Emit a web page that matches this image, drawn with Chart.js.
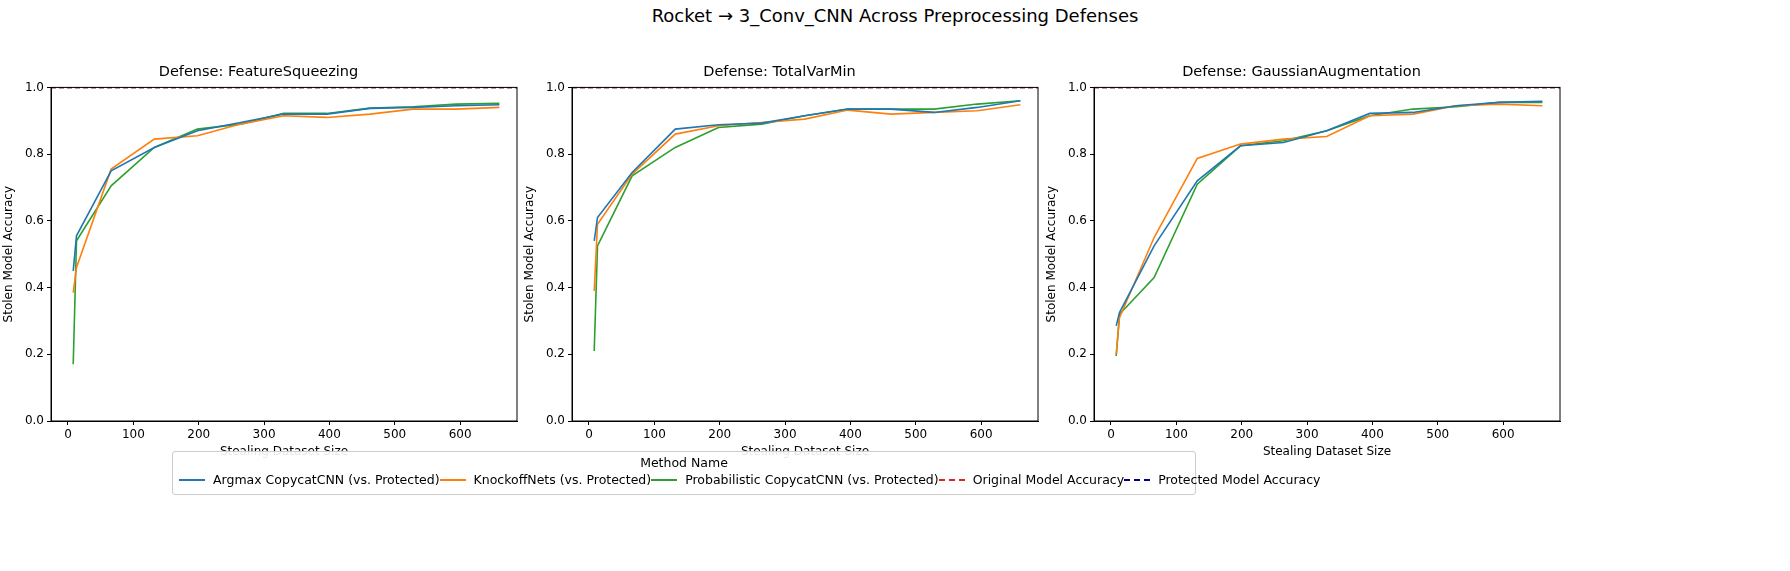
<!DOCTYPE html>
<html>
<head>
<meta charset="utf-8">
<script src="https://cdn.jsdelivr.net/npm/chart.js@4.4.0/dist/chart.umd.min.js"></script>
<style>
body { margin: 0; background: #fff; font-family: "DejaVu Sans", sans-serif; }
#wrap { position: relative; width: 1790px; height: 571px; }
#suptitle { position: absolute; top: 5px; left: 0; width: 1790px; text-align: center; font-size: 18px; }
.panel { position: absolute; top: 64px; width: 530px; height: 397px; }
#legend { position: absolute; left: 172px; top: 451px; width: 1024px; height: 44px; border: 1px solid #ccc; border-radius: 3px; background: rgba(255,255,255,0.9); font-size: 12.5px; box-sizing: border-box; white-space: nowrap; }
#legend .ttl { text-align: center; margin-top: 3px; }
#legend .items { display: flex; justify-content: space-between; margin-top: 2px; padding: 0 6px; }
#legend .item { display: flex; align-items: center; gap: 8px; }
#legend .sw { width: 26px; height: 0; border-top: 2px solid; }
</style>
</head>
<body>
<div id="wrap">
  <div id="suptitle">Rocket → 3_Conv_CNN Across Preprocessing Defenses</div>
  <div class="panel" style="left:0px"><canvas id="c0"></canvas></div>
  <div class="panel" style="left:521px"><canvas id="c1"></canvas></div>
  <div class="panel" style="left:1043px"><canvas id="c2"></canvas></div>
  <div id="legend">
    <div class="ttl">Method Name</div>
    <div class="items" id="legendItems"></div>
  </div>
</div>
<script>
const defenses = ['FeatureSqueezing', 'TotalVarMin', 'GaussianAugmentation'];
const sizes = [8, 13, 66, 132, 198, 264, 330, 396, 462, 528, 594, 660];
const methods = ['Argmax CopycatCNN (vs. Protected)', 'KnockoffNets (vs. Protected)', 'Probabilistic CopycatCNN (vs. Protected)'];
const colors = ['#1f77b4', '#ff7f0e', '#2ca02c'];

const argmaxAcc = [
    [0.45, 0.555, 0.75, 0.82, 0.87, 0.895, 0.92, 0.92, 0.937, 0.94, 0.945, 0.948],
    [0.54, 0.61, 0.745, 0.875, 0.888, 0.893, 0.915, 0.935, 0.935, 0.925, 0.94, 0.96],
    [0.285, 0.325, 0.525, 0.72, 0.825, 0.835, 0.87, 0.922, 0.925, 0.945, 0.955, 0.958]
];
const knockoffAcc = [
    [0.385, 0.46, 0.755, 0.845, 0.855, 0.89, 0.915, 0.91, 0.92, 0.935, 0.935, 0.94],
    [0.39, 0.59, 0.74, 0.86, 0.885, 0.895, 0.905, 0.932, 0.92, 0.925, 0.93, 0.948],
    [0.2, 0.31, 0.55, 0.787, 0.83, 0.845, 0.853, 0.915, 0.92, 0.945, 0.95, 0.945]
];
const probAcc = [
    [0.17, 0.54, 0.705, 0.82, 0.875, 0.89, 0.922, 0.922, 0.938, 0.942, 0.95, 0.952],
    [0.21, 0.525, 0.735, 0.82, 0.88, 0.89, 0.915, 0.935, 0.935, 0.935, 0.95, 0.96],
    [0.195, 0.32, 0.43, 0.71, 0.825, 0.84, 0.87, 0.915, 0.935, 0.942, 0.955, 0.955]
];
const originalAcc = 1.0;
const protectedAcc = 1.0;

const font = { family: 'DejaVu Sans', size: 12 };

function refLine(value) {
    return [{ x: -26, y: value }, { x: 687, y: value }];
}

defenses.forEach((def, i) => {
    const series = [argmaxAcc[i], knockoffAcc[i], probAcc[i]];
    const datasets = series.map((vals, k) => ({
        label: methods[k],
        data: sizes.map((s, j) => ({ x: s, y: vals[j] })),
        borderColor: colors[k],
        borderWidth: 1.6,
        pointRadius: 0,
        tension: 0
    }));
    datasets.push({
        label: 'Original Model Accuracy',
        data: refLine(originalAcc),
        borderColor: '#d62728', borderDash: [5, 3], borderWidth: 1.5, pointRadius: 0
    });
    datasets.push({
        label: 'Protected Model Accuracy',
        data: refLine(protectedAcc),
        borderColor: '#00008b', borderDash: [5, 3], borderWidth: 1.5, pointRadius: 0
    });

    new Chart(document.getElementById('c' + i), {
        type: 'line',
        data: { datasets: datasets },
        options: {
            responsive: true,
            maintainAspectRatio: false,
            animation: false,
            layout: { padding: { right: 13, left: 0 } },
            plugins: {
                legend: { display: false },
                tooltip: { enabled: false },
                title: { display: true, text: 'Defense: ' + def, color: '#000', font: { family: 'DejaVu Sans', size: 14.5, weight: 'normal' }, padding: { top: 0, bottom: 6 } }
            },
            scales: {
                x: {
                    type: 'linear', min: -26, max: 687,
                    afterBuildTicks: s => { s.ticks = [0, 100, 200, 300, 400, 500, 600].map(v => ({ value: v })); },
                    ticks: { color: '#000', font: font, maxRotation: 0 },
                    grid: { drawOnChartArea: false, drawTicks: true, tickLength: 4, color: '#000' },
                    border: { color: '#000' },
                    title: { display: true, text: 'Stealing Dataset Size', color: '#000', font: font, padding: 2 },
                    afterFit: s => { s.height = 40; }
                },
                y: {
                    min: 0, max: 1,
                    ticks: { stepSize: 0.2, color: '#000', font: font, callback: v => v.toFixed(1) },
                    grid: { drawOnChartArea: false, drawTicks: true, tickLength: 4, color: '#000' },
                    border: { color: '#000' },
                    title: { display: true, text: 'Stolen Model Accuracy', color: '#000', font: font, padding: 2 },
                    afterFit: s => { s.width = 51; }
                }
            }
        },
        plugins: [{
            id: 'frame',
            afterDraw(chart) {
                const a = chart.chartArea, ctx = chart.ctx;
                ctx.save();
                ctx.strokeStyle = '#000'; ctx.lineWidth = 1;
                ctx.strokeRect(a.left, a.top, a.right - a.left, a.bottom - a.top);
                ctx.restore();
            }
        }]
    });
});

const legendNames = methods.concat(['Original Model Accuracy', 'Protected Model Accuracy']);
const legendColors = colors.concat(['#d62728', '#00008b']);
const items = document.getElementById('legendItems');
legendNames.forEach((n, k) => {
    const style = k >= 3 ? 'border-top-style:dashed;' : '';
    items.innerHTML += `<div class="item"><span class="sw" style="border-color:${legendColors[k]};${style}"></span>${n}</div>`;
});
</script>
</body>
</html>
